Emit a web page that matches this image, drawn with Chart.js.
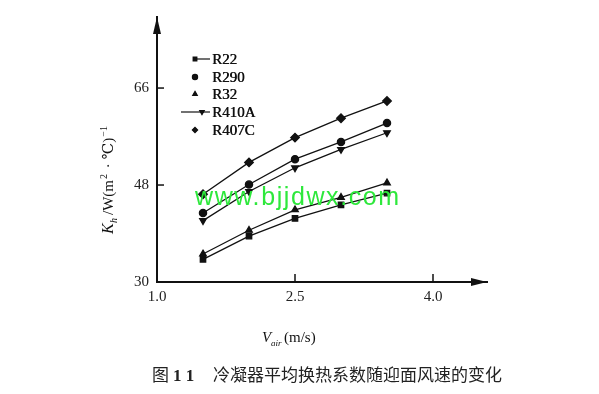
<!DOCTYPE html>
<html>
<head>
<meta charset="utf-8">
<script src="https://cdn.jsdelivr.net/npm/chart.js@4"></script>
<style>
  html, body { margin: 0; padding: 0; background: #fff; }
  #wrap { width: 599px; height: 394px; position: relative; }
</style>
</head>
<body>
<div id="wrap"><canvas id="chart" width="599" height="394"></canvas></div>
<script>
// Face velocity (m/s)
const speeds = [1.5, 2.0, 2.5, 3.0, 3.5];

// Average heat transfer coefficient per refrigerant
const seriesNames = ['R22', 'R290', 'R32', 'R410A', 'R407C'];
const r22Values = [34.2, 38.5, 41.8, 44.3, 46.5];
const r290Values = [42.8, 48.1, 52.8, 56.0, 59.5];
const r32Values = [35.2, 39.6, 43.4, 45.7, 48.4];
const r410aValues = [41.4, 46.8, 51.2, 54.6, 57.7];
const r407cValues = [46.3, 52.2, 56.8, 60.4, 63.6];

// Tick labels
const xTicks = [1.0, 2.5, 4.0];
const yTicks = [30, 48, 66];

const serif = '"Liberation Serif", "DejaVu Serif", serif';

function makeSet(label, values, style, rotation) {
    return {
        label: label,
        data: speeds.map((s, i) => ({ x: s, y: values[i] })),
        borderColor: '#111',
        backgroundColor: '#111',
        borderWidth: 1.3,
        pointStyle: style,
        rotation: rotation || 0,
        pointRadius: style === 'rectRot' ? 4.3 : (style === 'circle' ? 3.6 : 3.8),
        pointHoverRadius: 4,
        tension: 0
    };
}

// Axes, arrows, inner ticks, legend, titles and caption
const decorPlugin = {
    id: 'decor',
    afterDatasetsDraw(chart) {
        const ctx = chart.ctx;
        const xs = chart.scales.x;
        const ys = chart.scales.y;
        const area = chart.chartArea;
        const x0 = area.left;
        const y0 = area.bottom;

        ctx.save();
        ctx.strokeStyle = '#111';
        ctx.fillStyle = '#111';

        // inner tick marks
        ctx.lineWidth = 1.5;
        yTicks.slice(1).forEach(v => {
            const py = ys.getPixelForValue(v);
            ctx.beginPath();
            ctx.moveTo(x0, py);
            ctx.lineTo(x0 + 7, py);
            ctx.stroke();
        });
        xTicks.slice(1).forEach(v => {
            const px = xs.getPixelForValue(v);
            ctx.beginPath();
            ctx.moveTo(px, y0);
            ctx.lineTo(px, y0 - 8);
            ctx.stroke();
        });

        // arrow heads
        ctx.beginPath();
        ctx.moveTo(x0, area.top);
        ctx.lineTo(x0 - 4, area.top + 17);
        ctx.lineTo(x0 + 4, area.top + 17);
        ctx.closePath();
        ctx.fill();
        ctx.beginPath();
        ctx.moveTo(area.right, y0);
        ctx.lineTo(area.right - 16, y0 - 4);
        ctx.lineTo(area.right - 16, y0 + 4);
        ctx.closePath();
        ctx.fill();

        // legend
        const rows = [59, 77, 94, 112, 130];
        ctx.font = '15px ' + serif;
        ctx.textBaseline = 'middle';
        ctx.textAlign = 'left';
        chart.data.datasets.forEach((ds, i) => {
            const y = rows[i];
            ctx.lineWidth = 1.2;
            if (i === 0 || i === 3) {
                ctx.beginPath();
                ctx.moveTo(i === 3 ? 181 : 197, y);
                ctx.lineTo(210, y);
                ctx.stroke();
            }
            const mx = i === 3 ? 202 : 195;
            Chart.helpers.drawPoint(ctx, {
                pointStyle: ds.pointStyle, rotation: ds.rotation,
                radius: 2.6, borderWidth: 1
            }, mx, y);
            ctx.fill();
            ctx.fillText(ds.label, 212, y + 1);
            ctx.fillText(ds.label, 212.4, y + 1);
        });

        // watermark
        ctx.font = '25px "Liberation Sans", Arial, sans-serif';
        ctx.fillStyle = '#2ee83c';
        ctx.textBaseline = 'alphabetic';
        ctx.letterSpacing = '1.6px';
        ctx.fillText('www.bjjdwx.com', 195, 205);
        ctx.letterSpacing = '0px';

        // x axis title
        ctx.fillStyle = '#111';
        ctx.font = 'italic 15px ' + serif;
        ctx.fillText('V', 262, 342);
        ctx.font = 'italic 9px ' + serif;
        ctx.fillText('air', 271, 346);
        ctx.font = '15px ' + serif;
        ctx.fillText('(m/s)', 284, 342);

        // y axis title (rotated)
        ctx.save();
        ctx.translate(113, 234);
        ctx.rotate(-Math.PI / 2);
        ctx.font = 'italic 16px ' + serif;
        ctx.fillText('K', 0, 0);
        ctx.font = 'italic 10px ' + serif;
        ctx.fillText('h', 11, 4);
        ctx.font = '15px ' + serif;
        ctx.fillText('/W(m', 19, 0);
        let w = 19 + ctx.measureText('/W(m').width;
        ctx.font = '10px ' + serif;
        ctx.fillText('2', w + 1, -6);
        w += 8;
        ctx.font = '15px ' + serif;
        ctx.fillText(' · ℃)', w, 0);
        w += ctx.measureText(' · ℃)').width;
        ctx.font = '10px ' + serif;
        ctx.fillText('−1', w + 1, -6);
        ctx.restore();

        // caption
        ctx.fillStyle = '#222';
        ctx.font = '17px "Noto Sans CJK SC", sans-serif';
        ctx.fillText('图', 152, 381);
        ctx.font = 'bold 17px ' + serif;
        ctx.fillText('1 1', 173, 381);
        ctx.font = '17px "Noto Sans CJK SC", sans-serif';
        ctx.fillText('冷凝器平均换热系数随迎面风速的变化', 213, 381);

        ctx.restore();
    }
};

new Chart(document.getElementById('chart'), {
    type: 'line',
    data: {
        datasets: [
            makeSet(seriesNames[0], r22Values, 'rect'),
            makeSet(seriesNames[1], r290Values, 'circle'),
            makeSet(seriesNames[2], r32Values, 'triangle'),
            makeSet(seriesNames[3], r410aValues, 'triangle', 180),
            makeSet(seriesNames[4], r407cValues, 'rectRot')
        ]
    },
    options: {
        responsive: false,
        animation: false,
        events: [],
        layout: { padding: { left: 0, right: 112, top: 10, bottom: 0 } },
        plugins: {
            legend: { display: false },
            tooltip: { enabled: false }
        },
        scales: {
            x: {
                type: 'linear',
                min: 1.0,
                max: 1.0 + 330 / 92,
                afterBuildTicks: s => { s.ticks = xTicks.map(v => ({ value: v })); },
                afterFit: s => { s.height = 112; },
                grid: { display: false, drawTicks: false },
                border: { display: true, color: '#111', width: 2 },
                ticks: {
                    color: '#222',
                    padding: 6,
                    maxRotation: 0,
                    font: { family: serif, size: 15 },
                    callback: v => v.toFixed(1)
                }
            },
            y: {
                type: 'linear',
                min: 30,
                max: 30 + 272 / 5.53,
                afterBuildTicks: s => { s.ticks = yTicks.map(v => ({ value: v })); },
                afterFit: s => { s.width = 157; },
                grid: { display: false, drawTicks: false },
                border: { display: true, color: '#111', width: 2 },
                ticks: {
                    color: '#222',
                    padding: 8,
                    font: { family: serif, size: 15 }
                }
            }
        }
    },
    plugins: [decorPlugin]
});
</script>
</body>
</html>
